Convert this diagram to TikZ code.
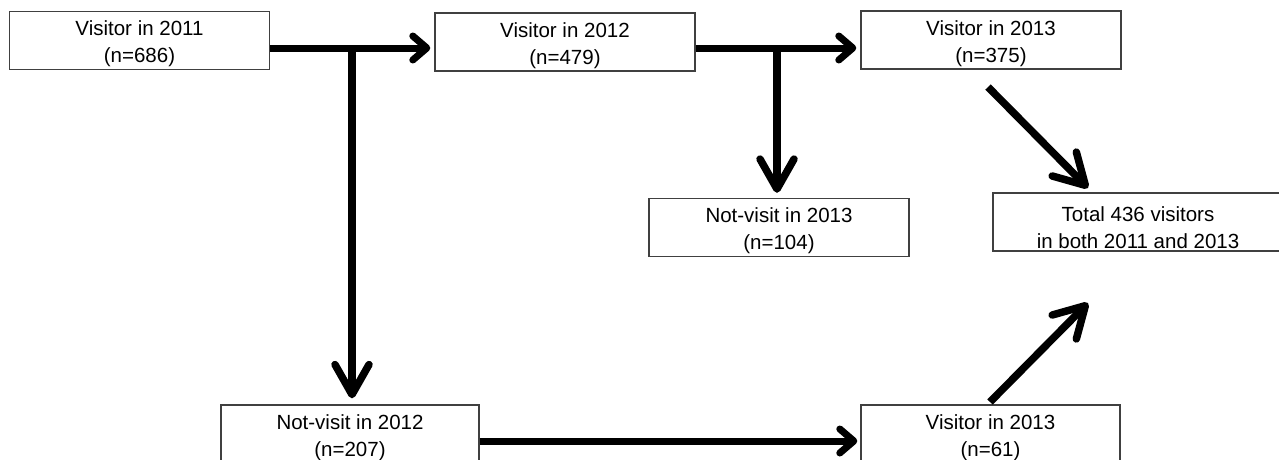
\documentclass[tikz,border=0pt]{standalone}
\usepackage{fontspec}
\setmainfont{Liberation Sans}
\usetikzlibrary{arrows.meta}
\begin{document}
\begin{tikzpicture}[x=1pt,y=-1pt,
  box/.style={draw=black!75, line width=1.4pt, minimum width=260pt, minimum height=58pt,
    inner sep=0pt, align=center, font=\fontsize{20.5}{27}\selectfont},
  flow/.style={line width=7pt, -{Straight Barb[length=14pt,width=24pt,line cap=round,line join=round]}},
  bigflow/.style={line width=7.5pt, -{Straight Barb[length=30pt,width=34pt,line cap=round,line join=round]}}]
\useasboundingbox (0,0) rectangle (1279,459);
\clip (0,0) rectangle (1279,459);
\fill[white] (0,0) rectangle (1279,459);
% boxes
\node[box] (v11) at (139.5,40.5) {\rule{0pt}{22pt}Visitor in 2011\\(n=686)};
\node[box] (v12) at (565,42) {\rule{0pt}{22pt}Visitor in 2012\\(n=479)};
\node[box] (v13) at (991,40) {\rule{0pt}{22pt}Visitor in 2013\\(n=375)};
\node[box] (n13) at (779,227.5) {\rule{0pt}{22pt}Not-visit in 2013\\(n=104)};
\node[box, minimum width=290pt] (tot) at (1138,222) {\rule{0pt}{26pt}Total 436 visitors\\ in both 2011 and 2013};
\node[box, minimum width=258pt] (n12) at (350,434) {\rule{0pt}{22pt}Not-visit in 2012\\(n=207)};
\node[box, minimum width=259pt] (v13b) at (990.5,434) {\rule{0pt}{22pt}Visitor in 2013\\(n=61)};
% junction and guide coordinates
\coordinate (s1) at (352,48);
\coordinate (s2) at (777,48);
\coordinate (h3) at (0,441);
\coordinate (d1s) at (988,87);
\coordinate (d1e) at (1088,188);
\coordinate (d2s) at (990,402);
\coordinate (d2e) at (1088,303);
% connectors
\draw[flow, shorten >=4pt] (v11.east |- s1) -- (v12.west |- s1);
\draw[bigflow, shorten >=6pt] (s1) -- (s1 |- n12.north);
\draw[flow, shorten >=4pt] (v12.east |- s2) -- (v13.west |- s2);
\draw[bigflow, shorten >=5pt] (s2) -- (s2 |- n13.north);
\draw[flow, shorten >=3pt] (n12.east |- h3) -- (v13b.west |- h3);
\draw[bigflow] (d1s) -- (d1e);
\draw[bigflow] (d2s) -- (d2e);
\end{tikzpicture}
\end{document}
